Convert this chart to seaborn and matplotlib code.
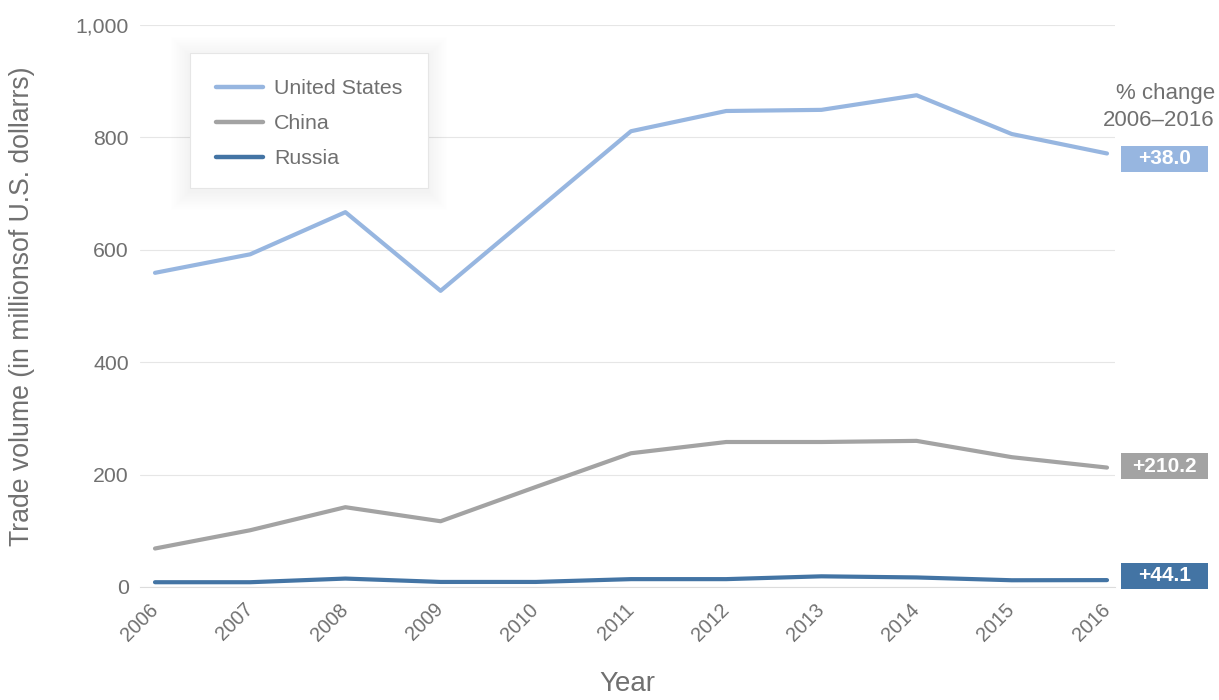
import matplotlib
matplotlib.use("Agg")
import matplotlib.pyplot as plt
import matplotlib.transforms as mtransforms
from matplotlib.patches import Rectangle
import seaborn as sns
import pandas as pd

# Annual trade volume, millions of U.S. dollars
years = [2006, 2007, 2008, 2009, 2010, 2011, 2012, 2013, 2014, 2015, 2016]
united_states = [559, 592, 667, 527, 669, 811, 847, 849, 875, 806, 771.4]
china = [68.5, 101, 142, 117, 178, 238, 258, 258, 260, 231, 212.5]
russia = [8.5, 8.5, 15, 9, 9, 14, 14, 19, 17, 12, 12.25]

countries = ["United States", "China", "Russia"]
colors = ["#97b6e0", "#a3a3a3", "#4374a4"]
change_labels = ["+38.0", "+210.2", "+44.1"]
label_centers = [762, 215, 20]

y_ticks = [0, 200, 400, 600, 800, 1000]
y_tick_labels = ["0", "200", "400", "600", "800", "1,000"]

df = pd.DataFrame({
    "Year": years * 3,
    "Volume": united_states + china + russia,
    "Country": [c for c in countries for _ in years],
})

sns.set_style("white")
plt.rcParams["font.family"] = ["Liberation Sans", "DejaVu Sans"]
text_color = "#707070"

W, H = 1219, 700
fig = plt.figure(figsize=(W / 100, H / 100), dpi=100)
ax_left, ax_right, ax_top, ax_bottom = 140, 1115, 25, 587
ax = fig.add_axes([ax_left / W, 1 - ax_bottom / H,
                   (ax_right - ax_left) / W, (ax_bottom - ax_top) / H])

sns.lineplot(data=df, x="Year", y="Volume", hue="Country",
             hue_order=countries, palette=colors, linewidth=3.0,
             ax=ax, legend=False)

px_per_year = (1107 - 155) / 10
ax.set_xlim(2006 - 15 / px_per_year, 2016 + 8 / px_per_year)
ax.set_ylim(0, 1000)

ax.set_yticks(y_ticks)
ax.set_yticklabels(y_tick_labels)
ax.set_xticks(years)
ax.set_xticklabels([str(y) for y in years], rotation=45, ha="right",
                   va="center", rotation_mode="anchor")

ax.tick_params(axis="y", length=0, pad=8, labelsize=15.3, labelcolor=text_color)
ax.tick_params(axis="x", direction="in", length=9, width=0.8, color="#e2e2e2",
               pad=14, labelsize=14.3, labelcolor=text_color)

ax.grid(axis="y", color="#e6e6e6", linewidth=0.8)
ax.set_axisbelow(True)
for side in ["left", "right", "top"]:
    ax.spines[side].set_visible(False)
ax.spines["bottom"].set_color("#dcdcdc")
ax.spines["bottom"].set_linewidth(0.8)

ax.set_ylabel("Trade volume (in millionsof U.S. dollarrs)", fontsize=19.2,
              color=text_color, va="center")
ax.yaxis.set_label_coords((22 - ax_left) / (ax_right - ax_left), 0.5)
ax.set_xlabel("Year", fontsize=20, color=text_color, va="center")
ax.xaxis.set_label_coords(0.5, (ax_bottom - 684) / (ax_bottom - ax_top))

# Percent-change badges at the right end of each line
blend = mtransforms.blended_transform_factory(ax.transAxes, ax.transData)
ax_w = ax_right - ax_left
bx0 = (1121 - ax_left) / ax_w
bw = 87 / ax_w
bh = 26 / ((ax_bottom - ax_top) / 1000)
for label, yc, col in zip(change_labels, label_centers, colors):
    ax.add_patch(Rectangle((bx0, yc - bh / 2), bw, bh, transform=blend,
                           facecolor=col, edgecolor="none", clip_on=False))
    ax.text(bx0 + bw / 2, yc, label, transform=blend, ha="center",
            va="center", color="white", fontsize=15, fontweight="bold")

fig.text(1215 / W, 1 - 94 / H, "% change", ha="right", va="center",
         fontsize=16, color=text_color)
fig.text(1215 / W, 1 - 121 / H, "2006\u20132016", ha="right", va="center",
         fontsize=16, color=text_color)

# Legend panel with a soft drop shadow
lx0, ly0, lx1, ly1 = 190, 53, 428, 188
for i in range(1, 13):
    g = i * 1.6
    fig.patches.append(Rectangle(((lx0 - g) / W, 1 - (ly1 + g + 3) / H),
                                 (lx1 - lx0 + 2 * g) / W,
                                 (ly1 - ly0 + 2 * g) / H,
                                 transform=fig.transFigure,
                                 facecolor="black", alpha=0.005,
                                 edgecolor="none", zorder=5))
fig.patches.append(Rectangle((lx0 / W, 1 - ly1 / H), (lx1 - lx0) / W,
                             (ly1 - ly0) / H, transform=fig.transFigure,
                             facecolor="white", edgecolor="#e6e6e6",
                             linewidth=0.8, zorder=6))

handles = [plt.Line2D([], [], color=c, linewidth=3.2) for c in colors]
leg = fig.legend(handles, countries, loc="upper left",
                 bbox_to_anchor=(216 / W, 1 - 79 / H), frameon=False,
                 fontsize=15.4, labelcolor=text_color, handlelength=2.2,
                 handletextpad=0.5, labelspacing=0.75, borderpad=0,
                 borderaxespad=0)
leg.set_zorder(7)

fig.savefig("out.png", dpi=100, facecolor="white")
